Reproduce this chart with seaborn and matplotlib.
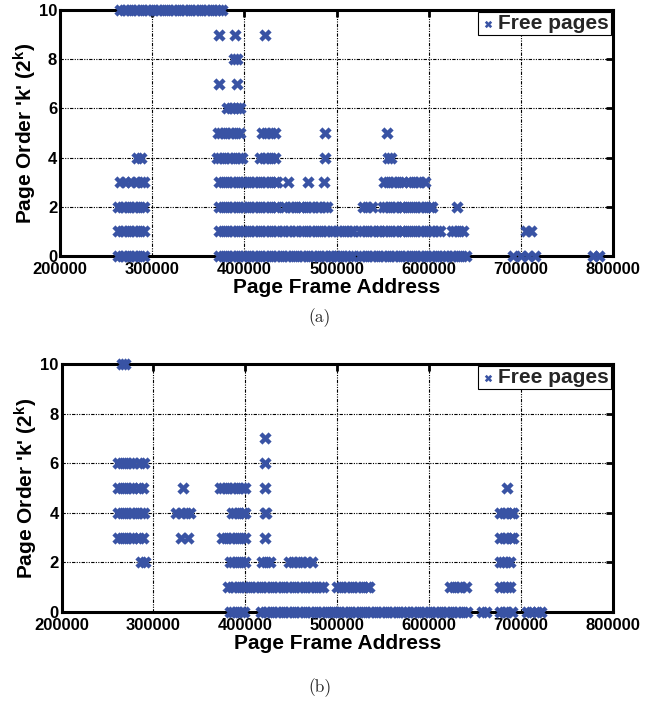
import matplotlib
matplotlib.use("Agg")
import matplotlib.pyplot as plt
import pandas as pd
import seaborn as sns

# ---------------- data (page frame addresses in thousands) ----------------
# panel (a)
a_k10 = [265, 269, 273, 277, 281, 285, 289, 293, 297, 301, 305, 309, 313, 317, 321,
         325, 329, 333, 337, 341, 345, 349, 353, 357, 361, 365, 369, 373, 376]
a_k9 = [373, 390, 422]
a_k8 = [389, 392]
a_k7 = [373, 392]
a_k6 = [381, 385, 389, 392, 395]
a_k5 = [371, 375, 379, 383, 387, 391, 395, 419, 424, 429, 433, 487, 555]
a_k4 = [284, 288, 370, 374, 378, 382, 386, 390, 394, 398, 417, 421, 425, 429, 433,
        487, 556, 559]
a_k3 = [265, 271, 277, 283, 288, 291, 373, 377, 381, 385, 389, 393, 397, 401, 405,
        409, 413, 417, 421, 425, 429, 433, 435, 447, 469, 486, 552, 556, 560, 564,
        568, 572, 579, 583, 587, 591, 596]
a_k2 = [263, 267, 271, 275, 279, 283, 287, 291, 373, 377, 381, 385, 389, 393, 397,
        401, 405, 409, 413, 417, 421, 425, 429, 433, 435, 444, 448, 452, 456, 460,
        463, 467, 471, 475, 479, 482, 486, 490, 529, 533, 538, 550, 554, 558, 562,
        566, 570, 572, 577, 581, 585, 589, 593, 597, 601, 604, 631]
a_k1 = [263, 267, 271, 275, 279, 283, 287, 291, 373, 377, 381, 385, 389, 393, 397,
        401, 405, 409, 413, 417, 421, 425, 429, 433, 437, 442, 446, 450, 454, 457,
        463, 467, 471, 475, 479, 483, 487, 491, 495, 500, 504, 508, 512, 516, 518,
        525, 529, 533, 537, 541, 545, 547, 550, 554, 558, 562, 566, 570, 572, 577,
        581, 585, 589, 593, 597, 601, 605, 609, 612, 625, 629, 633, 637, 706, 711]
a_k0 = [263, 267, 271, 275, 279, 283, 287, 291, 373, 377, 381, 385, 389, 393, 397,
        401, 405, 409, 413, 417, 421, 425, 429, 433, 437, 441, 445, 449, 453, 457,
        461, 465, 469, 473, 477, 481, 485, 489, 493, 495, 498, 502, 506, 510, 514,
        517, 525, 529, 533, 537, 541, 545, 549, 553, 557, 561, 565, 569, 573, 577,
        581, 585, 589, 593, 597, 601, 605, 609, 613, 617, 620, 624, 628, 632, 636,
        640, 692, 700, 708, 715, 778, 785]

# panel (b)
b_k10 = [266, 269]
b_k7 = [421]
b_k6 = [262, 266, 270, 274, 278, 285, 290, 421]
b_k5 = [262, 266, 270, 274, 278, 284, 289, 332, 372, 376, 380, 384, 388, 392, 396,
        400, 421, 685]
b_k4 = [262, 266, 270, 274, 278, 282, 286, 290, 325, 330, 335, 340, 385, 389, 393,
        397, 400, 421, 423, 677, 681, 685, 689, 691]
b_k3 = [262, 266, 270, 274, 278, 284, 289, 330, 338, 375, 379, 383, 387, 391, 395,
        400, 421, 677, 681, 685, 689, 691]
b_k2 = [286, 291, 383, 387, 391, 395, 400, 418, 423, 427, 447, 452, 457, 462, 467,
        472, 677, 680, 684, 688]
b_k1 = [381, 385, 389, 393, 397, 401, 405, 409, 413, 417, 421, 425, 429, 433, 437,
        441, 445, 449, 453, 457, 461, 465, 469, 473, 477, 481, 484, 500, 504, 508,
        512, 516, 520, 524, 528, 532, 535, 623, 627, 631, 635, 640, 677, 681, 685, 688]
b_k0 = [383, 387, 391, 395, 399, 417, 421, 425, 429, 433, 437, 441, 445, 449, 453,
        457, 461, 465, 469, 473, 477, 481, 485, 489, 493, 495, 498, 502, 506, 510,
        514, 518, 522, 526, 530, 534, 538, 542, 546, 550, 554, 558, 562, 566, 570,
        574, 577, 581, 585, 589, 593, 597, 601, 605, 609, 613, 617, 621, 625, 629,
        633, 637, 641, 657, 662, 677, 681, 685, 690, 706, 711, 717, 722]

panel_a = {10: a_k10, 9: a_k9, 8: a_k8, 7: a_k7, 6: a_k6, 5: a_k5, 4: a_k4,
           3: a_k3, 2: a_k2, 1: a_k1, 0: a_k0}
panel_b = {10: b_k10, 7: b_k7, 6: b_k6, 5: b_k5, 4: b_k4, 3: b_k3, 2: b_k2,
           1: b_k1, 0: b_k0}

x_ticks = [200000, 300000, 400000, 500000, 600000, 700000, 800000]
y_ticks = [0, 2, 4, 6, 8, 10]
captions = ["(a)", "(b)"]
series_label = "Free pages"

rows = []
for panel, levels in (("a", panel_a), ("b", panel_b)):
    for k, xs in levels.items():
        for x in xs:
            rows.append({"panel": panel, "addr": x * 1000, "order": k})
df = pd.DataFrame(rows)

# ---------------- style ----------------
sns.set_theme(style="white")
plt.rcParams["font.family"] = ["Liberation Sans", "DejaVu Sans"]
plt.rcParams["mathtext.fontset"] = "custom"
plt.rcParams["mathtext.rm"] = "Liberation Sans"
plt.rcParams["mathtext.bf"] = "Liberation Sans:bold"
plt.rcParams["mathtext.it"] = "Liberation Sans:italic"

BLUE = "#3953a4"

fig = plt.figure(figsize=(6.45, 7.02), dpi=100)
ax_a = fig.add_axes([60 / 645, 1 - 256 / 702, 553 / 645, 246 / 702])
ax_b = fig.add_axes([61.5 / 645, 1 - 612 / 702, 551.5 / 645, 248 / 702])

for ax, panel, cap, cap_y in ((ax_a, "a", captions[0], 318), (ax_b, "b", captions[1], 688)):
    sub = df[df["panel"] == panel]
    sns.scatterplot(data=sub, x="addr", y="order", ax=ax, marker="X", s=78,
                    color=BLUE, linewidth=0, label=series_label,
                    clip_on=False, zorder=4)
    ax.set_xlim(200000, 800000)
    ax.set_ylim(0, 10)
    ax.set_xticks(x_ticks)
    ax.set_xticklabels([str(t) for t in x_ticks], fontweight="bold", fontsize=12)
    ax.set_yticks(y_ticks)
    ax.set_yticklabels([str(t) for t in y_ticks], fontweight="bold", fontsize=12)
    ax.tick_params(direction="in", length=5, width=2, top=True, right=True,
                   colors="black")
    ax.tick_params(axis="x", pad=4.5)
    ax.tick_params(axis="y", pad=2)
    ax.set_axisbelow(True)
    ax.grid(True, color="black", linestyle=(0, (3, 1.2, 1, 1.2, 1, 1.2)),
            linewidth=0.8)
    for s in ax.spines.values():
        s.set_linewidth(2.2)
        s.set_color("black")
    ax.set_xlabel("Page Frame Address", fontsize=15, fontweight="bold",
                  labelpad=0.5, color="black")
    ax.set_ylabel("Page Order 'k' (2$^{\\mathbf{k}}$)", fontsize=15,
                  fontweight="bold", labelpad=0, color="black")
    leg = ax.legend(loc="upper right", frameon=True, fancybox=False,
                    edgecolor="black", framealpha=1, borderaxespad=0.1,
                    borderpad=0.1, handletextpad=0.15, handlelength=0.7,
                    markerscale=0.6, prop={"weight": "bold", "size": 15})
    leg.get_frame().set_linewidth(0.8)
    fig.text(320 / 645, 1 - cap_y / 702, cap, ha="center", va="center",
             family="cmr10", fontsize=12.5)

fig.savefig("out.png", dpi=100)
